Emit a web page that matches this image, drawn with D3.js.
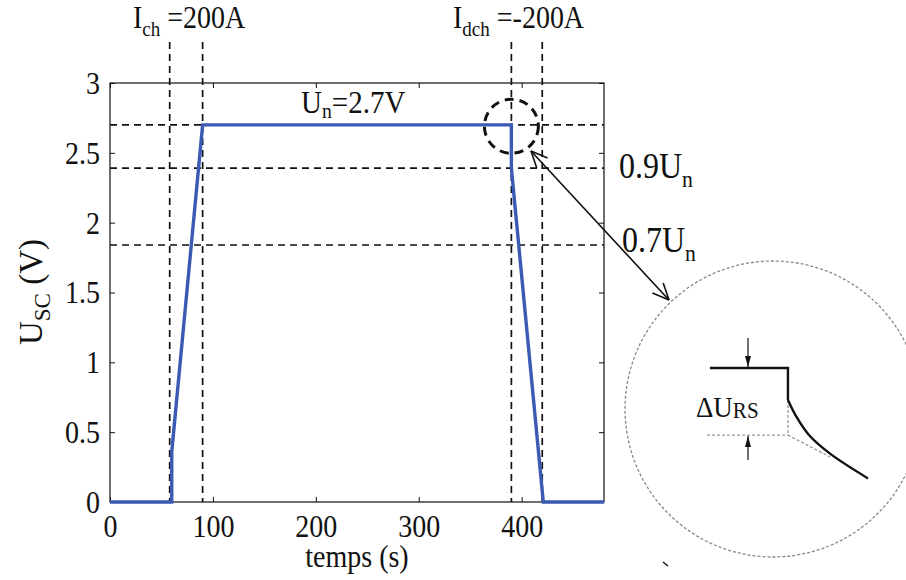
<!DOCTYPE html>
<html>
<head>
<meta charset="utf-8">
<script src="https://cdn.jsdelivr.net/npm/d3@7"></script>
<style>
  html, body { margin: 0; padding: 0; background: #fff; }
  svg { display: block; }
  svg text { font-family: "Liberation Serif", "Tinos", "Times New Roman", Times, "Noto Serif", "DejaVu Serif", serif; }
</style>
</head>
<body>
<script>
// ---------------- data ----------------
const timeS = [0, 60, 60, 90, 390, 390, 421, 480];
const usc   = [0, 0, 0.36, 2.7, 2.7, 2.39, 0, 0];
const xTicks = [0, 100, 200, 300, 400];
const yTicks = [0, 0.5, 1, 1.5, 2, 2.5, 3];
const yTickLabels = ["0", "0.5", "1", "1.5", "2", "2.5", "3"];
const refLevels = [2.7, 2.39, 1.84];          // Un, 0.9Un, 0.7Un dashed lines
const markTimes = [58, 90, 390, 420];          // vertical dashed markers
const zoomPoint = { t: 390, u: 2.69 };         // small dashed circle

// inset (zoom) schematic, in local units of the big circle ([-1,1])
const insetStepU = [-0.426, 0.101, 0.101];
const insetStepV = [0.277, 0.277, 0.061];
const insetCurveU = [0.101, 0.158, 0.243, 0.383, 0.642];
const insetCurveV = [0.061, -0.052, -0.176, -0.300, -0.469];
const insetDashU = [-0.446, 0.101, 0.101, 0.385];
const insetDashV = [-0.176, -0.176, 0.061, -0.324];

// ---------------- layout ----------------
const W = 906, H = 580;
const FONT = '"Liberation Serif", "Tinos", "Times New Roman", Times, "Noto Serif", "DejaVu Serif", serif';
const SY = 1.09; // vertical glyph stretch seen in the reference
const svg = d3.select("body").append("svg").attr("width", W).attr("height", H);
const x = d3.scaleLinear().domain([0, 480]).range([110, 604]);
const y = d3.scaleLinear().domain([0, 3]).range([502, 83]);
const blue = "#3a5ab3";

function richText(parent, px, py, parts, size, opts) {
  opts = opts || {};
  const g = parent.append("g")
    .attr("transform", `translate(${px},${py})${opts.rotate ? ` rotate(${opts.rotate})` : ""} scale(1,${opts.sy || SY})`);
  const t = g.append("text").attr("x", 0).attr("y", 0)
    .attr("font-size", size).attr("fill", "#111").attr("font-family", FONT)
    .attr("text-anchor", opts.anchor || "start");
  let shift = 0;
  parts.forEach(p => {
    const ts = t.append("tspan").text(p.t);
    if (p.sub) {
      const s = p.drop !== undefined ? p.drop : size * 0.25;
      ts.attr("font-size", size * (p.scale || 0.68)).attr("dy", s - shift);
      shift = s;
    } else {
      ts.attr("dy", -shift);
      shift = 0;
    }
  });
  return t;
}

// box
svg.append("rect").attr("x", x(0)).attr("y", y(3))
  .attr("width", x(480) - x(0)).attr("height", y(0) - y(3))
  .attr("fill", "none").attr("stroke", "#111").attr("stroke-width", 1.2);

// axes with inward ticks
const gx = svg.append("g").attr("transform", `translate(0,${y(0)})`)
  .call(d3.axisBottom(x).tickValues(xTicks).tickSize(-5).tickPadding(13));
const gy = svg.append("g").attr("transform", `translate(${x(0)},0)`)
  .call(d3.axisLeft(y).tickValues(yTicks).tickFormat((d, i) => yTickLabels[i]).tickSize(-5).tickPadding(10));
const gxt = svg.append("g").attr("transform", `translate(0,${y(3)})`)
  .call(d3.axisTop(x).tickValues(xTicks).tickSize(-5).tickFormat(""));
const gyr = svg.append("g").attr("transform", `translate(${x(480)},0)`)
  .call(d3.axisRight(y).tickValues(yTicks).tickSize(-5).tickFormat(""));
[gx, gy, gxt, gyr].forEach(g => {
  g.attr("font-family", FONT);
  g.select(".domain").remove();
  g.selectAll(".tick line").attr("stroke", "#111").attr("stroke-width", 1);
  g.selectAll(".tick text").attr("font-family", FONT).attr("font-size", 28).attr("fill", "#111");
});
gy.selectAll(".tick text").attr("dy", "0.34em").attr("transform", `scale(1,${SY})`);
gx.selectAll(".tick text").attr("transform", `translate(0,13) scale(1,${SY}) translate(0,-13)`);

// dashed reference lines
svg.append("g").selectAll("line.h").data(refLevels).join("line")
  .attr("x1", x(0)).attr("x2", x(480))
  .attr("y1", d => y(d)).attr("y2", d => y(d))
  .attr("stroke", "#111").attr("stroke-width", 1.7).attr("stroke-dasharray", "7,5");
svg.append("g").selectAll("line.v").data(markTimes).join("line")
  .attr("x1", d => x(d)).attr("x2", d => x(d))
  .attr("y1", 42).attr("y2", y(0))
  .attr("stroke", "#111").attr("stroke-width", 1.7).attr("stroke-dasharray", "7,5");

// voltage curve
const pts = timeS.map((t, i) => [t, usc[i]]);
svg.append("path").datum(pts)
  .attr("d", d3.line().x(d => x(d[0])).y(d => y(d[1])))
  .attr("fill", "none").attr("stroke", blue).attr("stroke-width", 3.4)
  .attr("stroke-linejoin", "miter");

// small dashed circle
svg.append("circle").attr("cx", x(zoomPoint.t)).attr("cy", y(zoomPoint.u)).attr("r", 27)
  .attr("fill", "none").attr("stroke", "#111").attr("stroke-width", 3).attr("stroke-dasharray", "9,6");

// labels
richText(svg, 133, 28, [{t: "I"}, {t: "ch", sub: true}, {t: " =200A"}], 28);
richText(svg, 453, 28, [{t: "I"}, {t: "dch", sub: true}, {t: " =-200A"}], 28);
richText(svg, 301, 113, [{t: "U"}, {t: "n", sub: true, drop: 5}, {t: "=2.7V"}], 29);
richText(svg, 619, 178, [{t: "0.9U"}, {t: "n", sub: true, drop: 8}], 32);
richText(svg, 622, 252, [{t: "0.7U"}, {t: "n", sub: true, drop: 8}], 32);

// axis titles
richText(svg, 357, 567, [{t: "temps (s)"}], 28, {anchor: "middle"});
richText(svg, 42, 292, [{t: "U"}, {t: "SC", sub: true, drop: 8, scale: 0.7}, {t: " (V)"}], 33,
  {anchor: "middle", rotate: -90, sy: 1});

// ---------------- inset ----------------
const cx = 773, cy = 409, R = 148;
const iu = d3.scaleLinear().domain([-1, 1]).range([cx - R, cx + R]);
const iv = d3.scaleLinear().domain([-1, 1]).range([cy + R, cy - R]);
svg.append("circle").attr("cx", iu(0)).attr("cy", iv(0)).attr("r", R)
  .attr("fill", "none").attr("stroke", "#888").attr("stroke-width", 1.3).attr("stroke-dasharray", "3,2");

// connecting double arrow
const a1 = [531, 151], a2 = [669, 300];
svg.append("line").attr("x1", a1[0]).attr("y1", a1[1]).attr("x2", a2[0]).attr("y2", a2[1])
  .attr("stroke", "#111").attr("stroke-width", 1.6);
function chevron(tip, from, len, ang) {
  const dx = from[0] - tip[0], dy = from[1] - tip[1];
  const base = Math.atan2(dy, dx);
  [base + ang, base - ang].forEach(a => {
    svg.append("line").attr("x1", tip[0]).attr("y1", tip[1])
      .attr("x2", tip[0] + len * Math.cos(a)).attr("y2", tip[1] + len * Math.sin(a))
      .attr("stroke", "#111").attr("stroke-width", 1.6);
  });
}
chevron(a1, a2, 18, 0.42);
chevron(a2, a1, 18, 0.42);

// gray dashed construction lines
svg.append("path").attr("d", `M${iu(insetDashU[0])},${iv(insetDashV[0])}L${iu(insetDashU[1])},${iv(insetDashV[1])}`)
  .attr("stroke", "#999").attr("stroke-width", 1.3).attr("stroke-dasharray", "3,2").attr("fill", "none");
svg.append("path").attr("d", `M${iu(insetDashU[2])},${iv(insetDashV[2])}L${iu(insetDashU[1])},${iv(insetDashV[1])}L${iu(insetDashU[3])},${iv(insetDashV[3])}`)
  .attr("stroke", "#999").attr("stroke-width", 1.3).attr("stroke-dasharray", "3,2").attr("fill", "none");

// solid step + curve
svg.append("path").datum(insetStepU.map((u, i) => [u, insetStepV[i]]))
  .attr("d", d3.line().x(d => iu(d[0])).y(d => iv(d[1])))
  .attr("fill", "none").attr("stroke", "#111").attr("stroke-width", 2.4);
svg.append("path").datum(insetCurveU.map((u, i) => [u, insetCurveV[i]]))
  .attr("d", d3.line().x(d => iu(d[0])).y(d => iv(d[1])).curve(d3.curveCatmullRom))
  .attr("fill", "none").attr("stroke", "#111").attr("stroke-width", 2.4);

// ΔU arrows
function vArrow(xp, y0, y1) {
  svg.append("line").attr("x1", xp).attr("x2", xp).attr("y1", y0).attr("y2", y1)
    .attr("stroke", "#111").attr("stroke-width", 1.2);
  const dir = Math.sign(y1 - y0);
  svg.append("path").attr("d", `M${xp},${y1}L${xp - 3},${y1 - dir * 11}L${xp + 3},${y1 - dir * 11}Z`).attr("fill", "#111");
}
vArrow(iu(-0.169), iv(0.48), iv(0.284));
vArrow(iu(-0.169), iv(-0.345), iv(-0.182));
richText(svg, 696, 417, [{t: "ΔU"}, {t: "RS", sub: true, scale: 0.78, drop: 1}], 27, {sy: 1.12});

// stray mark under inset
svg.append("line").attr("x1", 663).attr("y1", 562).attr("x2", 668).attr("y2", 566)
  .attr("stroke", "#111").attr("stroke-width", 1.4);
</script>
</body>
</html>
